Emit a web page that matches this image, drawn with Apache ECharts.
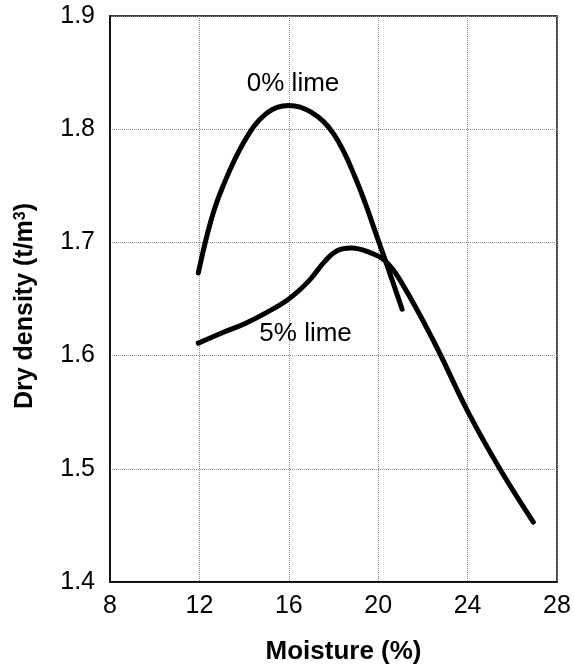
<!DOCTYPE html>
<html>
<head>
<meta charset="utf-8">
<script src="https://cdn.jsdelivr.net/npm/echarts@6/dist/echarts.min.js"></script>
<style>
  html, body { margin: 0; padding: 0; background: #fff; }
  #chart { width: 574px; height: 666px; }
</style>
</head>
<body>
<div id="chart"></div>
<script>
// Compaction curves: dry density vs. moisture content
const xTicks = [8, 12, 16, 20, 24, 28];
const yTicks = [1.4, 1.5, 1.6, 1.7, 1.8, 1.9];

const moisture0 = [11.95, 12.5, 13, 14, 15, 16, 17, 18, 19, 20, 21.07];
const density0  = [1.673, 1.718, 1.747, 1.789, 1.814, 1.821, 1.815, 1.796, 1.756, 1.702, 1.641];

const moisture5 = [11.95, 13, 14, 15, 16, 16.9, 17.6, 18.2, 18.8, 19.5, 20.3, 21, 22.5, 24, 25.5, 26.94];
const density5  = [1.611, 1.620, 1.628, 1.638, 1.650, 1.666, 1.683, 1.693, 1.695, 1.692, 1.684, 1.666, 1.612, 1.551, 1.498, 1.453];

const curveNames = ['0% lime', '5% lime'];
const labelX = [16.19, 16.75];
const labelY = [1.840, 1.619];

const FONT = '"Liberation Sans", Arial, sans-serif';
const zip = (xs, ys) => xs.map((x, i) => [x, ys[i]]);

const chart = echarts.init(document.getElementById('chart'));
chart.setOption({
  animation: false,
  backgroundColor: '#fff',
  textStyle: { fontFamily: FONT, color: '#000' },
  grid: {
    left: 110, right: 17, top: 16, bottom: 84,
    outerBoundsMode: 'none',
    show: true, borderColor: '#000', borderWidth: 1.5, backgroundColor: 'transparent'
  },
  xAxis: {
    type: 'value',
    min: xTicks[0], max: xTicks[xTicks.length - 1], interval: 4,
    name: 'Moisture (%)',
    nameLocation: 'middle',
    nameGap: 57,
    nameTextStyle: { fontFamily: FONT, fontSize: 26, fontWeight: 'bold', color: '#000', padding: [0, 0, 0, 20] },
    axisLine: { show: true, lineStyle: { color: '#000', width: 1.5 } },
    axisTick: { show: false },
    axisLabel: { fontFamily: FONT, fontSize: 25, color: '#000', margin: 12 },
    splitLine: { show: true, lineStyle: { type: 'dotted', color: '#8a8a8a', width: 1 } }
  },
  yAxis: {
    type: 'value',
    min: yTicks[0], max: yTicks[yTicks.length - 1], interval: 0.1,
    name: '{b|Dry density (t/m}{s|3}{b|)}',
    nameLocation: 'middle',
    nameGap: 72,
    nameTextStyle: {
      padding: [0, 14, 0, 0],
      rich: {
        b: { fontFamily: FONT, fontSize: 25, fontWeight: 'bold', color: '#000' },
        s: { fontFamily: FONT, fontSize: 16, fontWeight: 'bold', color: '#000', verticalAlign: 'top', padding: [0, 0, 8, 0] }
      }
    },
    axisLine: { show: true, lineStyle: { color: '#000', width: 1.5 } },
    axisTick: { show: false },
    axisLabel: {
      fontFamily: FONT, fontSize: 25, color: '#000', margin: 15,
      formatter: v => v.toFixed(1)
    },
    splitLine: { show: true, lineStyle: { type: 'dotted', color: '#8a8a8a', width: 1 } }
  },
  series: [
    {
      name: curveNames[0], type: 'line', data: zip(moisture0, density0),
      smooth: 0.4, showSymbol: false,
      lineStyle: { color: '#000', width: 5, cap: 'round', join: 'round' }
    },
    {
      name: curveNames[1], type: 'line', data: zip(moisture5, density5),
      smooth: 0.4, showSymbol: false,
      lineStyle: { color: '#000', width: 5, cap: 'round', join: 'round' }
    }
  ]
});

// Curve labels, placed at their data coordinates
chart.setOption({
  graphic: curveNames.map((n, i) => {
    const [px, py] = chart.convertToPixel({ gridIndex: 0 }, [labelX[i], labelY[i]]);
    return {
      type: 'text', x: px, y: py, silent: true,
      style: { text: n, fontFamily: FONT, fontSize: 26, fill: '#000', align: 'center', verticalAlign: 'middle' }
    };
  })
});
</script>
</body>
</html>
